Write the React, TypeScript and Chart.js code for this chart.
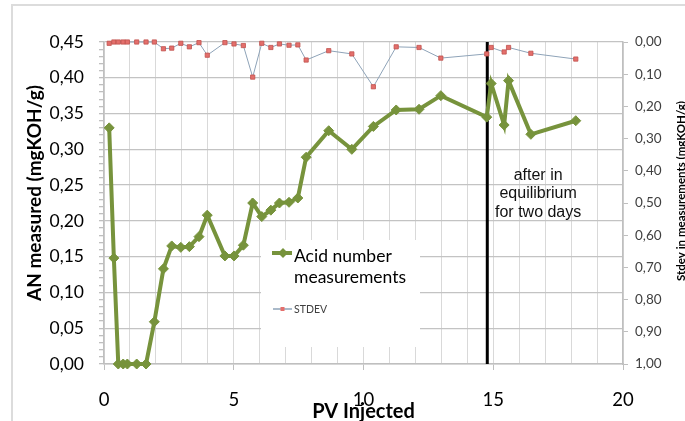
import React, { useEffect, useRef } from 'react';
import { Chart, registerables } from 'chart.js';

Chart.register(...registerables);

// ---- data ----
const pvInjected = [0.2, 0.38, 0.55, 0.74, 0.9, 1.26, 1.62, 1.94, 2.29, 2.61, 2.96, 3.29, 3.66, 3.98, 4.66, 5.01, 5.37, 5.73, 6.08, 6.43, 6.76, 7.13, 7.47, 7.79, 8.66, 9.55, 10.38, 11.26, 12.14, 12.98, 14.75, 14.92, 15.42, 15.59, 16.45, 18.18];
const acidNumber = [0.330, 0.148, 0, 0, 0, 0, 0, 0.059, 0.133, 0.165, 0.163, 0.164, 0.178, 0.208, 0.151, 0.151, 0.166, 0.225, 0.206, 0.215, 0.225, 0.226, 0.232, 0.289, 0.326, 0.300, 0.332, 0.355, 0.356, 0.375, 0.345, 0.392, 0.334, 0.396, 0.321, 0.340];
const stdevValues = [0.004, 0, 0, 0, 0, 0, 0, 0, 0.021, 0.019, 0.004, 0.015, 0.002, 0.041, 0.002, 0.006, 0.011, 0.109, 0.004, 0.017, 0.006, 0.010, 0.009, 0.056, 0.027, 0.037, 0.139, 0.015, 0.017, 0.050, 0.037, 0.017, 0.031, 0.017, 0.035, 0.053];
const equilibriumPV = 14.77;
const pvRange = [0, 20];
const anRange = [0, 0.45];
const stdevRange = [0, 1];
const pvTickValues = [0, 1, 2, 3, 4, 5, 6, 7, 8, 9, 10, 11, 12, 13, 14, 15, 16, 17, 18, 19, 20];
const pvLabelTicks = [0, 5, 10, 15, 20];
const anMinorStep = 0.01;
const anMajorStep = 0.05;
const stdevStep = 0.1;
const seriesNames = ['Acid number measurements', 'STDEV'];
const legendLines = ['Acid number', 'measurements'];
const annotationLines = ['after in', 'equilibrium', 'for two days'];
const annotationAt = { pv: 16.73, an: 0.2575 };
const xTitle = 'PV Injected';
const yTitle = 'AN measured (mgKOH/g)';
const y1Title = 'Stdev in measurements (mgKOH/g)';

// ---- styles ----
const GREEN = '#77933C';
const RED_FILL = '#E46F6C';
const RED_EDGE = '#C0504D';
const STDEV_LINE = '#8EA3B8';
const GRID_H = '#c3c3c3';
const GRID_V = '#d9d9d9';
const AXIS = '#bfbfbf';

const comma = (v: number) => v.toFixed(2).replace('.', ',');

function diamond(ctx: CanvasRenderingContext2D, x: number, y: number, r: number) {
  ctx.beginPath();
  ctx.moveTo(x, y - r);
  ctx.lineTo(x + r, y);
  ctx.lineTo(x, y + r);
  ctx.lineTo(x - r, y);
  ctx.closePath();
  ctx.fill();
}

const decorPlugin = {
  id: 'decor',
  beforeDatasetsDraw(chart: any) {
    const ctx = chart.ctx as CanvasRenderingContext2D;
    ctx.save();
    ctx.fillStyle = '#ffffff';
    ctx.fillRect(261, 240, 159, 107);
    ctx.restore();
  },
  afterDraw(chart: any) {
    const ctx = chart.ctx as CanvasRenderingContext2D;
    const xs = chart.scales.x;
    const ys = chart.scales.y;
    const area = chart.chartArea;
    ctx.save();

    // outer frame
    ctx.strokeStyle = '#dcdcdc';
    ctx.lineWidth = 2;
    ctx.beginPath();
    ctx.moveTo(12, 421);
    ctx.lineTo(12, 5);
    ctx.lineTo(685, 5);
    ctx.stroke();

    // legend
    ctx.strokeStyle = GREEN;
    ctx.lineWidth = 4;
    ctx.beginPath();
    ctx.moveTo(272, 253);
    ctx.lineTo(292, 253);
    ctx.stroke();
    ctx.fillStyle = GREEN;
    diamond(ctx, 283, 253, 5);
    ctx.fillStyle = '#000000';
    ctx.font = '17.5px Lato';
    ctx.textAlign = 'left';
    ctx.textBaseline = 'alphabetic';
    ctx.fillText(legendLines[0], 294, 262);
    ctx.fillText(legendLines[1], 294, 283);

    ctx.strokeStyle = STDEV_LINE;
    ctx.lineWidth = 1.5;
    ctx.beginPath();
    ctx.moveTo(273, 309);
    ctx.lineTo(292, 309);
    ctx.stroke();
    ctx.fillStyle = RED_FILL;
    ctx.fillRect(280.5, 307, 4, 4);
    ctx.fillStyle = '#404040';
    ctx.font = '10.5px Lato';
    ctx.fillText(seriesNames[1], 294, 313);

    // annotation
    ctx.fillStyle = '#111111';
    ctx.font = '16px "Liberation Sans"';
    ctx.textAlign = 'center';
    const ax = xs.getPixelForValue(annotationAt.pv);
    const ay = ys.getPixelForValue(annotationAt.an);
    annotationLines.forEach((t, i) => ctx.fillText(t, ax, ay + i * 18.5));

    // axis titles
    ctx.fillStyle = '#000000';
    ctx.font = 'bold 20px Lato';
    ctx.textAlign = 'center';
    ctx.fillText(xTitle, (area.left + area.right) / 2, 418);

    ctx.save();
    ctx.translate(41, 193);
    ctx.rotate(-Math.PI / 2);
    ctx.font = 'bold 19px Lato';
    ctx.fillText(yTitle, 0, 0);
    ctx.restore();

    ctx.save();
    ctx.translate(685, 191);
    ctx.rotate(-Math.PI / 2);
    ctx.font = 'bold 11.5px Lato';
    ctx.fillText(y1Title, 0, 0);
    ctx.restore();

    ctx.restore();
  },
};

export default function App() {
  const ref = useRef<HTMLCanvasElement | null>(null);

  useEffect(() => {
    document.body.style.margin = '0';
    const canvas = ref.current;
    if (!canvas) return;

    const anTicks: number[] = [];
    for (let i = 0; i <= Math.round(anRange[1] / anMinorStep); i++) anTicks.push(+(i * anMinorStep).toFixed(2));
    const stdevTicks: number[] = [];
    for (let i = 0; i <= Math.round(stdevRange[1] / stdevStep); i++) stdevTicks.push(+(i * stdevStep).toFixed(1));
    const isMajorAN = (v: number) => Math.round(v * 100) % Math.round(anMajorStep * 100) === 0;

    const chart = new Chart(canvas, {
      type: 'line',
      data: {
        datasets: [
          {
            label: 'Equilibrium marker',
            data: [
              { x: equilibriumPV, y: anRange[0] },
              { x: equilibriumPV, y: anRange[1] },
            ],
            borderColor: '#000000',
            borderWidth: 3,
            pointRadius: 0,
            xAxisID: 'x',
            yAxisID: 'y',
            order: 3,
            clip: false,
          },
          {
            label: seriesNames[0],
            data: pvInjected.map((x, i) => ({ x, y: acidNumber[i] })),
            borderColor: GREEN,
            backgroundColor: GREEN,
            borderWidth: 4,
            pointStyle: 'rectRot',
            pointRadius: 5,
            pointBorderWidth: 1,
            pointBackgroundColor: GREEN,
            pointBorderColor: GREEN,
            xAxisID: 'x',
            yAxisID: 'y',
            order: 2,
            clip: false,
          },
          {
            label: seriesNames[1],
            data: pvInjected.map((x, i) => ({ x, y: stdevValues[i] })),
            borderColor: STDEV_LINE,
            borderWidth: 1,
            pointStyle: 'rect',
            pointRadius: 3,
            pointBorderWidth: 0.8,
            pointBackgroundColor: RED_FILL,
            pointBorderColor: RED_EDGE,
            xAxisID: 'x',
            yAxisID: 'y1',
            order: 1,
            clip: false,
          },
        ],
      },
      options: {
        animation: false,
        responsive: false,
        layout: { padding: { top: 42, left: 0, right: 0, bottom: 0 } },
        plugins: {
          legend: { display: false },
          tooltip: { enabled: false },
        },
        scales: {
          x: {
            type: 'linear',
            position: 'bottom',
            min: pvRange[0],
            max: pvRange[1],
            afterBuildTicks: (s: any) => { s.ticks = pvTickValues.map((v) => ({ value: v })); },
            afterFit: (s: any) => { s.height = 57; },
            ticks: {
              autoSkip: false,
              maxRotation: 0,
              padding: 19,
              color: '#000000',
              font: { family: 'Lato', size: 18.5 },
              callback: (v: any) => (pvLabelTicks.includes(Number(v)) ? String(v) : ''),
            },
            grid: {
              color: GRID_V,
              lineWidth: 1,
              tickLength: 6,
              tickColor: (c: any) => (c.tick && pvLabelTicks.includes(c.tick.value) ? AXIS : 'rgba(0,0,0,0)'),
            },
            border: { display: true, color: AXIS, width: 1.5 },
          },
          y: {
            type: 'linear',
            position: 'left',
            min: anRange[0],
            max: anRange[1],
            afterBuildTicks: (s: any) => { s.ticks = anTicks.map((v) => ({ value: v })); },
            afterFit: (s: any) => { s.width = 104; },
            ticks: {
              autoSkip: false,
              padding: 15,
              color: '#000000',
              font: { family: 'Lato', size: 17.5 },
              callback: (v: any) => (isMajorAN(Number(v)) ? comma(Number(v)) : ''),
            },
            grid: {
              color: (c: any) => (c.tick && isMajorAN(c.tick.value) ? GRID_H : 'rgba(0,0,0,0)'),
              lineWidth: 1.3,
              tickLength: 5,
              tickColor: AXIS,
            },
            border: { display: true, color: AXIS, width: 1.5 },
          },
          y1: {
            type: 'linear',
            position: 'right',
            reverse: true,
            min: stdevRange[0],
            max: stdevRange[1],
            afterBuildTicks: (s: any) => { s.ticks = stdevTicks.map((v) => ({ value: v })); },
            afterFit: (s: any) => { s.width = 62; },
            ticks: {
              autoSkip: false,
              padding: 7,
              color: '#404040',
              font: { family: 'Lato', size: 13.5 },
              callback: (v: any) => comma(Number(v)),
            },
            grid: {
              drawOnChartArea: false,
              tickLength: 5,
              tickColor: AXIS,
            },
            border: { display: true, color: AXIS, width: 1.5 },
          },
        },
      },
      plugins: [decorPlugin],
    } as any);

    return () => chart.destroy();
  }, []);

  return (
    <div style={{ width: 685, height: 421 }}>
      <canvas ref={ref} width={685} height={421} style={{ display: 'block', width: 685, height: 421 }} />
    </div>
  );
}
